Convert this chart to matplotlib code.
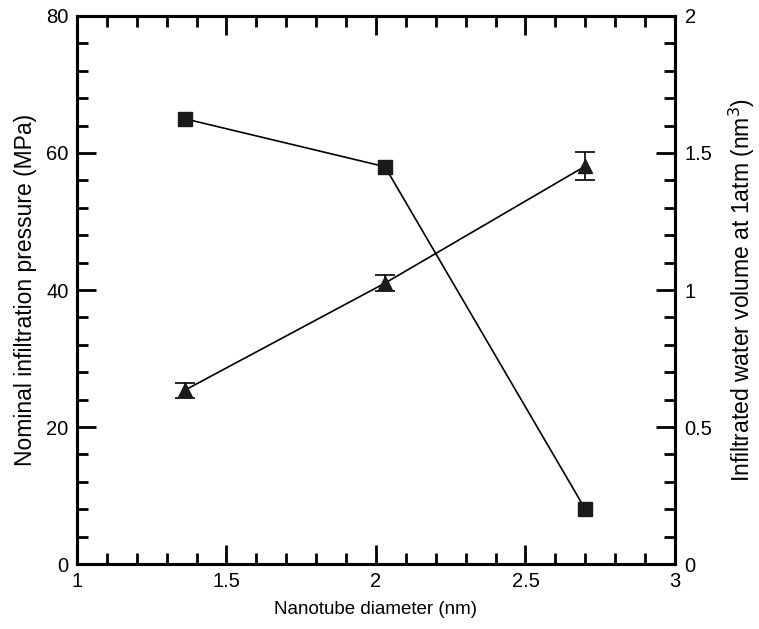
import numpy as np
import matplotlib.pyplot as plt
from matplotlib.ticker import MultipleLocator

plt.rcParams['font.family'] = ['Liberation Sans', 'DejaVu Sans']

# datos
diametro = [1.36, 2.03, 2.70]
presion = [65, 58, 8]
volumen = [0.634, 1.025, 1.452]
volumen_err = [0.027, 0.03, 0.05]

fig = plt.figure(figsize=(7.59, 6.29), dpi=100)
ax = fig.add_axes([0.1014, 0.1033, 0.7879, 0.8713])
ax2 = ax.twinx()

ax.plot(diametro, presion, color='black', lw=1.2, marker='s', ms=9.5,
        markerfacecolor='#1a1a1a', markeredgecolor='#1a1a1a')
ax2.errorbar(diametro, volumen, yerr=volumen_err, color='black', lw=1.2,
             marker='^', ms=10, markerfacecolor='#1a1a1a', markeredgecolor='#1a1a1a',
             capsize=7, elinewidth=1.2, capthick=1.2)

ax.set_xlim(1, 3)
ax.set_ylim(0, 80)
ax2.set_ylim(0, 2)

ax.xaxis.set_major_locator(MultipleLocator(0.5))
ax.xaxis.set_minor_locator(MultipleLocator(0.1))
ax.yaxis.set_major_locator(MultipleLocator(20))
ax.yaxis.set_minor_locator(MultipleLocator(4))
ax2.yaxis.set_major_locator(MultipleLocator(0.5))
ax2.yaxis.set_minor_locator(MultipleLocator(0.1))
ax.set_xticks([1, 1.5, 2, 2.5, 3], ['1', '1.5', '2', '2.5', '3'])
ax2.set_yticks([0, 0.5, 1, 1.5, 2], ['0', '0.5', '1', '1.5', '2'])

ax.tick_params(which='both', direction='in', top=True, right=False, labelsize=14.5, width=2, pad=6)
ax.tick_params(which='major', length=14)
ax.tick_params(which='minor', length=8)
ax2.tick_params(which='both', direction='in', labelsize=14.5, width=2, pad=7)
ax2.tick_params(which='major', length=14)
ax2.tick_params(which='minor', length=8)

for a in (ax, ax2):
    for s in a.spines.values():
        s.set_linewidth(2.2)

ax.set_xlabel('Nanotube diameter (nm)', fontsize=13.5, labelpad=7)
ax.set_ylabel('Nominal infiltration pressure (MPa)', fontsize=16.5, labelpad=7)
ax2.set_ylabel('Infiltrated water volume at 1atm (nm$^3$)', fontsize=16.5, labelpad=10)

fig.savefig('out.png', dpi=100)
